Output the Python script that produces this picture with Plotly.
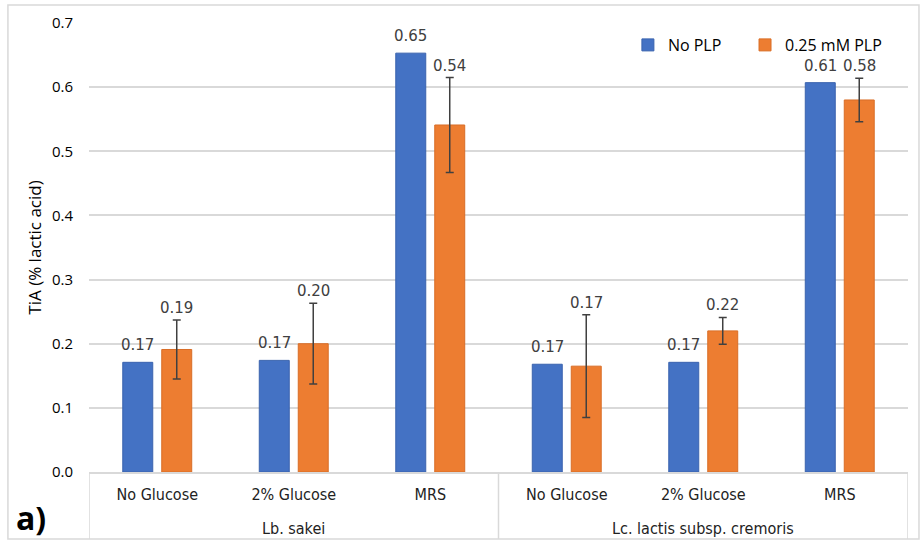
import plotly.graph_objects as go

# Titratable acidity per growth medium, two strains, with/without PLP
media = ["No Glucose", "2% Glucose", "MRS", "No Glucose", "2% Glucose", "MRS"]
strains = ["Lb. sakei", "Lc. lactis subsp. cremoris"]
no_plp = [0.171, 0.174, 0.653, 0.168, 0.171, 0.607]
plp_025 = [0.191, 0.200, 0.541, 0.165, 0.220, 0.580]
plp_025_err = [0.046, 0.063, 0.074, 0.080, 0.021, 0.034]
y_ticks = [0.0, 0.1, 0.2, 0.3, 0.4, 0.5, 0.6, 0.7]

BLUE = "#4472C4"
ORANGE = "#ED7D31"
TEXT = "#404040"
GRID = "#D9D9D9"

xpos = list(range(len(media)))

fig = go.Figure()
fig.add_trace(go.Bar(
    x=xpos, y=no_plp, name="No PLP", legend="legend",
    marker=dict(color=BLUE, line=dict(color="#3A63AE", width=1)),
))
fig.add_trace(go.Bar(
    x=xpos, y=plp_025, name="0.25 mM PLP", legend="legend2",
    marker=dict(color=ORANGE, line=dict(color="#D96E27", width=1)),
    error_y=dict(type="data", array=plp_025_err, visible=True,
                 color=TEXT, thickness=1.5, width=4),
))

# value labels above each bar (above the whisker for the PLP series)
label_font = dict(family="DejaVu Sans", size=15, color=TEXT)
for i in xpos:
    fig.add_annotation(x=i, y=no_plp[i], text=f"{no_plp[i]:.2f}",
                       xref="x", yref="y", showarrow=False,
                       xanchor="center", yanchor="bottom",
                       xshift=-19.5, yshift=6, font=label_font)
    fig.add_annotation(x=i, y=plp_025[i] + plp_025_err[i], text=f"{plp_025[i]:.2f}",
                       xref="x", yref="y", showarrow=False,
                       xanchor="center", yanchor="bottom",
                       xshift=19.5, yshift=1, font=label_font)

# strain labels under each group of three media
cat_font = dict(family="Liberation Sans Narrow, DejaVu Sans Condensed, sans-serif",
                size=16, color="#222222")
for k, strain in enumerate(strains):
    fig.add_annotation(x=3 * k + 1, y=-0.125, xref="x", yref="paper",
                       text=strain, showarrow=False, font=cat_font,
                       xanchor="center", yanchor="middle")

# group dividers on the category axis
for xd in (-0.5, 2.5, 5.5):
    fig.add_shape(type="line", x0=xd, x1=xd, y0=0, y1=-0.149,
                  xref="x", yref="paper", line=dict(color=GRID, width=1.5))

# chart frame
fig.add_shape(type="rect", x0=-0.099, x1=1.0134, y0=-0.149, y1=1.040,
              xref="paper", yref="paper", line=dict(color=GRID, width=1.5),
              layer="below")

# panel tag
fig.add_annotation(x=-0.092, y=-0.102, xref="paper", yref="paper",
                   text="<b>a)</b>", showarrow=False,
                   font=dict(family="Open Sans", size=32, color="#000000"),
                   xanchor="left", yanchor="middle")

legend_style = dict(orientation="h", y=0.951, xanchor="left", yanchor="middle",
                    font=dict(family="Open Sans", size=16, color="#000000"),
                    bgcolor="rgba(0,0,0,0)", itemwidth=30)

fig.update_layout(
    width=920, height=542,
    margin=dict(l=89, r=12, t=23, b=70, autoexpand=False),
    paper_bgcolor="white", plot_bgcolor="white",
    barmode="group", bargap=0.429, bargroupgap=0.231,
    showlegend=True,
    legend=dict(x=0.658, **legend_style),
    legend2=dict(x=0.801, **legend_style),
    xaxis=dict(
        range=[-0.5, 5.5], tickmode="array", tickvals=xpos, ticktext=media,
        showgrid=False, zeroline=False, showline=True, linecolor=GRID, linewidth=1.5,
        ticks="outside", ticklen=7, tickcolor="rgba(0,0,0,0)",
        tickfont=cat_font,
    ),
    yaxis=dict(
        range=[0, 0.7], tickmode="array", tickvals=y_ticks, tickformat=".1f",
        showgrid=True, gridcolor=GRID, gridwidth=1.5, zeroline=False,
        showline=False, ticks="", ticklabelstandoff=15,
        tickfont=dict(family="Open Sans", size=15, color="#000000"),
        title=dict(text="TiA (% lactic acid)", standoff=5,
                   font=dict(family="Open Sans", size=17, color="#000000")),
    ),
)

fig.write_html("out.html")
